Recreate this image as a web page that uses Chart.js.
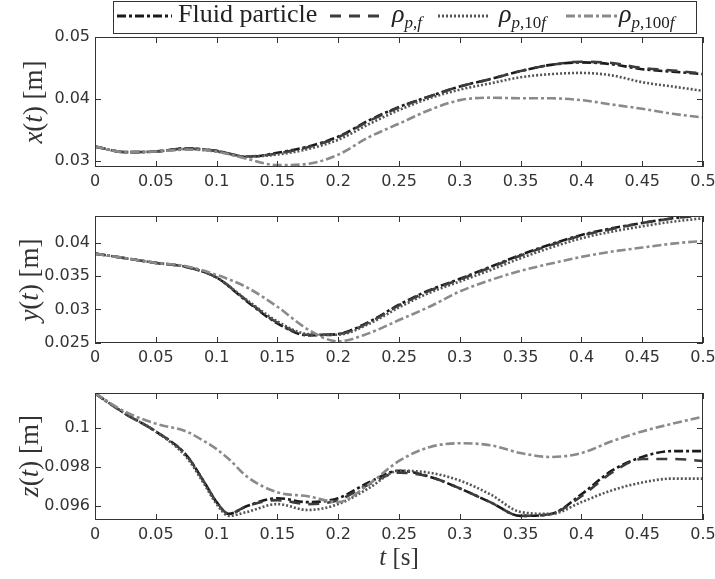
<!DOCTYPE html>
<html>
<head>
<meta charset="utf-8">
<script src="https://cdn.jsdelivr.net/npm/chart.js@4.4.1/dist/chart.umd.min.js"></script>
<style>
  body { margin: 0; background: #fff; width: 715px; height: 579px; position: relative; overflow: hidden; }
  canvas { position: absolute; left: 0; }
  .ytitle { position: absolute; font-family: 'Liberation Serif', serif; font-size: 27px; color: #333;
            transform: translate(-50%, -50%) rotate(-90deg); white-space: nowrap; }
  .xtitle { position: absolute; font-family: 'Liberation Serif', serif; font-size: 25px; color: #333;
            transform: translate(-50%, -50%); white-space: nowrap; }
  #legend { position: absolute; left: 113px; top: 1px; width: 584px; height: 33px; border: 1px solid #333;
            background: #fff; box-sizing: border-box; z-index: 2;
            font-family: 'Liberation Serif', serif; font-size: 26px; line-height: 26px; color: #222; }
  #legend svg { position: absolute; top: 9px; }
  #legend .t { position: absolute; top: -1px; white-space: nowrap; }
  #legend sub { font-size: 17px; vertical-align: -6px; line-height: 0; }
</style>
</head>
<body>
<div id="legend">
  <svg style="left:3px" width="55" height="10"><line x1="0" y1="5" x2="55" y2="5" stroke="#1a1a1a" stroke-width="3" stroke-dasharray="9,3,3,3"/></svg>
  <span class="t" style="left:64px">Fluid particle</span>
  <svg style="left:216px" width="55" height="10"><line x1="0" y1="5" x2="55" y2="5" stroke="#3c3c3c" stroke-width="3" stroke-dasharray="11,8"/></svg>
  <span class="t" style="left:278px"><i>ρ</i><sub><i>p</i>,<i>f</i></sub></span>
  <svg style="left:324px" width="52" height="10"><line x1="0" y1="5" x2="52" y2="5" stroke="#555" stroke-width="3" stroke-dasharray="2,2"/></svg>
  <span class="t" style="left:385px"><i>ρ</i><sub><i>p</i>,10<i>f</i></sub></span>
  <svg style="left:452px" width="52" height="10"><line x1="0" y1="5" x2="52" y2="5" stroke="#8a8a8a" stroke-width="3" stroke-dasharray="9,3,3,3"/></svg>
  <span class="t" style="left:505px"><i>ρ</i><sub><i>p</i>,100<i>f</i></sub></span>
</div>

<canvas id="cx" width="715" height="200" style="top:0"></canvas>
<canvas id="cy" width="715" height="170" style="top:200px"></canvas>
<canvas id="cz" width="715" height="209" style="top:370px"></canvas>

<div class="ytitle" style="left:33px; top:102px"><i>x</i>(<i>t</i>)&nbsp;[m]</div>
<div class="ytitle" style="left:29px; top:280px"><i>y</i>(<i>t</i>)&nbsp;[m]</div>
<div class="ytitle" style="left:29px; top:456px"><i>z</i>(<i>t</i>)&nbsp;[m]</div>
<div class="xtitle" style="left:399px; top:557px"><i>t</i>&nbsp;[s]</div>

<script>
// time grids
const tXY = [0, 0.025, 0.05, 0.075, 0.1, 0.125, 0.15, 0.175, 0.2, 0.225, 0.25,
             0.275, 0.3, 0.325, 0.35, 0.375, 0.4, 0.425, 0.45, 0.475, 0.5];
const tZ = [0, 0.025, 0.05, 0.075, 0.09, 0.1, 0.11, 0.125, 0.15, 0.175, 0.2, 0.225, 0.25,
            0.275, 0.3, 0.325, 0.35, 0.375, 0.4, 0.425, 0.45, 0.475, 0.5];

// x(t)
const xFluid = [.0323,.0314,.0315,.0320,.0316,.0306,.0313,.0323,.0339,.0365,.0387,.0404,.0420,.0432,.0445,.0455,.0459,.0456,.0448,.0444,.0440];
const xRhoF = [.0323,.0314,.0315,.0320,.0316,.0307,.0312,.0322,.0338,.0364,.0386,.0404,.0420,.0432,.0445,.0455,.0460,.0458,.0450,.0446,.0441];
const xRho10 = [.0323,.0314,.0315,.0319,.0315,.0307,.0310,.0319,.0334,.0359,.0382,.0401,.0415,.0425,.0435,.0440,.0442,.0438,.0427,.0420,.0413];
const xRho100 = [.0323,.0314,.0315,.0318,.0315,.0303,.0293,.0295,.0310,.0338,.0360,.0382,.0398,.0402,.0401,.0401,.0398,.0391,.0384,.0376,.0370];

// y(t)
const yFluid = [.0384,.0377,.0370,.0364,.0348,.0312,.0279,.0261,.0263,.0281,.0307,.0329,.0346,.0364,.0382,.0398,.0412,.0422,.0430,.0437,.0442];
const yRhoF = [.0384,.0377,.0370,.0364,.0348,.0313,.0280,.0262,.0263,.0280,.0306,.0328,.0345,.0363,.0381,.0397,.0411,.0421,.0430,.0437,.0442];
const yRho10 = [.0384,.0377,.0370,.0364,.0348,.0314,.0282,.0263,.0262,.0278,.0303,.0325,.0342,.0359,.0377,.0393,.0407,.0417,.0425,.0432,.0437];
const yRho100 = [.0384,.0377,.0370,.0365,.0352,.0333,.0304,.0270,.0252,.0264,.0284,.0304,.0327,.0344,.0358,.0369,.0379,.0387,.0393,.0399,.0403];

// z(t)
const zFluid = [.10174,.1007,.0998,.0986,.0972,.0962,.0956,.0960,.0964,.0962,.0964,.0972,.0978,.0975,.0969,.0962,.0955,.0956,.0966,.0978,.0985,.0988,.0988];
const zRhoF = [.10174,.1007,.0998,.0986,.0972,.0962,.0956,.0960,.0963,.0961,.0963,.0971,.0977,.0975,.0969,.0962,.0955,.0956,.0965,.0977,.0984,.0984,.0983];
const zRho10 = [.10174,.1007,.0998,.0985,.0971,.0961,.0955,.0957,.0961,.0958,.0961,.0969,.0978,.0977,.0973,.0966,.0957,.0956,.0962,.0968,.0972,.0974,.0974];
const zRho100 = [.10174,.1008,.1002,.0998,.0993,.0989,.0984,.0975,.0967,.0965,.0962,.0971,.0983,.0990,.0992,.0991,.0987,.0985,.0987,.0993,.0998,.1002,.10055];

// ticks
const xTicks = [0, 0.05, 0.1, 0.15, 0.2, 0.25, 0.3, 0.35, 0.4, 0.45, 0.5];
const xTickLabels = ['0', '0.05', '0.1', '0.15', '0.2', '0.25', '0.3', '0.35', '0.4', '0.45', '0.5'];
const yTicks1 = [0.03, 0.04, 0.05];
const yTickLabels1 = ['0.03', '0.04', '0.05'];
const yTicks2 = [0.025, 0.03, 0.035, 0.04];
const yTickLabels2 = ['0.025', '0.03', '0.035', '0.04'];
const yTicks3 = [0.096, 0.098, 0.1];
const yTickLabels3 = ['0.096', '0.098', '0.1'];

const tickFont = { family: 'DejaVu Sans', size: 16 };
const tickColor = '#333';

// box around the axes with inward tick marks, like matlab
const frame = {
  id: 'frame',
  afterDraw(chart) {
    const { ctx, chartArea: a, scales } = chart;
    const x = scales.x, y = scales.y;
    ctx.save();
    ctx.strokeStyle = '#333';
    ctx.lineWidth = 1;
    ctx.strokeRect(Math.round(a.left) + 0.5, Math.round(a.top) + 0.5,
                   Math.round(a.right - a.left) - 1, Math.round(a.bottom - a.top) - 1);
    ctx.beginPath();
    x.ticks.forEach(t => {
      const px = Math.round(x.getPixelForValue(t.value)) + 0.5;
      ctx.moveTo(px, a.bottom); ctx.lineTo(px, a.bottom - 6);
      ctx.moveTo(px, a.top); ctx.lineTo(px, a.top + 6);
    });
    y.ticks.forEach(t => {
      const py = Math.round(y.getPixelForValue(t.value)) + 0.5;
      ctx.moveTo(a.left, py); ctx.lineTo(a.left + 6, py);
      ctx.moveTo(a.right, py); ctx.lineTo(a.right - 6, py);
    });
    ctx.stroke();
    ctx.restore();
  }
};

function series(t, vals) {
  return vals.map((v, i) => ({ x: t[i], y: v }));
}

function makeChart(id, t, sets, yMin, yMax, yTicks, yLabels, padTop, xAxisH) {
  new Chart(document.getElementById(id), {
    type: 'line',
    data: {
      datasets: [
        { data: series(t, sets[0]), borderColor: '#1a1a1a', borderDash: [9, 3, 3, 3], order: 3 },
        { data: series(t, sets[1]), borderColor: '#3c3c3c', borderDash: [11, 8], order: 2 },
        { data: series(t, sets[2]), borderColor: '#555555', borderDash: [2, 2], order: 1 },
        { data: series(t, sets[3]), borderColor: '#8a8a8a', borderDash: [9, 3, 3, 3], order: 0 }
      ]
    },
    options: {
      responsive: false,
      animation: false,
      layout: { padding: { top: padTop, right: 12, left: 0, bottom: 0 } },
      plugins: { legend: { display: false }, tooltip: { enabled: false } },
      elements: {
        point: { radius: 0 },
        line: { borderWidth: 2.6, cubicInterpolationMode: 'monotone', fill: false }
      },
      scales: {
        x: {
          type: 'linear', min: 0, max: 0.5,
          afterBuildTicks: s => { s.ticks = xTicks.map(v => ({ value: v })); },
          afterFit: s => { s.height = xAxisH; s.paddingLeft = 0; s.paddingRight = 0; },
          grid: { display: false, drawTicks: false },
          border: { display: false },
          ticks: { padding: 5, font: tickFont, color: tickColor, maxRotation: 0, autoSkip: false,
                   callback: (v, i) => xTickLabels[i] }
        },
        y: {
          min: yMin, max: yMax,
          afterBuildTicks: s => { s.ticks = yTicks.map(v => ({ value: v })); },
          afterFit: s => { s.width = 95; s.paddingTop = 0; s.paddingBottom = 0; },
          grid: { display: false, drawTicks: false },
          border: { display: false },
          ticks: { padding: 5, font: tickFont, color: tickColor, autoSkip: false,
                   callback: (v, i) => yLabels[i] }
        }
      }
    },
    plugins: [frame]
  });
}

makeChart('cx', tXY, [xFluid, xRhoF, xRho10, xRho100], 0.029, 0.05, yTicks1, yTickLabels1, 37, 33);
makeChart('cy', tXY, [yFluid, yRhoF, yRho10, yRho100], 0.02495, 0.04405, yTicks2, yTickLabels2, 16, 27);
makeChart('cz', tZ, [zFluid, zRhoF, zRho10, zRho100], 0.09529, 0.10176, yTicks3, yTickLabels3, 23, 59);
</script>
</body>
</html>
